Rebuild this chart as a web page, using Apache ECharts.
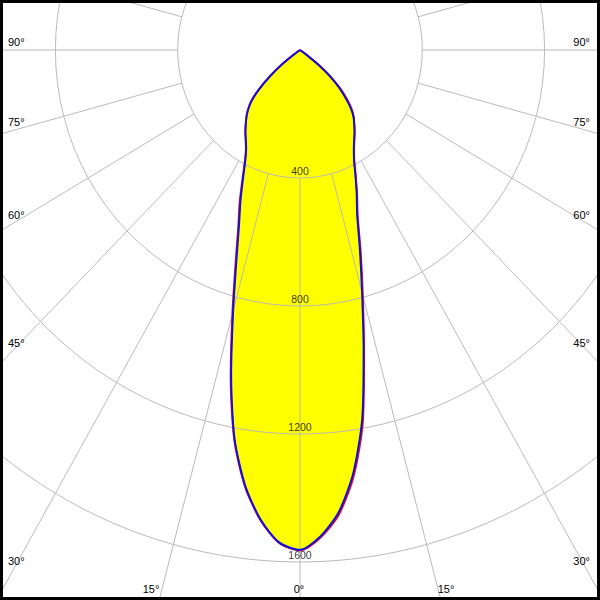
<!DOCTYPE html>
<html>
<head>
<meta charset="utf-8">
<script src="https://cdn.jsdelivr.net/npm/echarts@6/dist/echarts.min.js"></script>
<style>
html,body{margin:0;padding:0;background:#fff;overflow:hidden}
#wrap{position:absolute;left:0;top:0;width:600px;height:600px;overflow:hidden;background:#fff}
#polar{position:absolute;left:0;top:0;width:628px;height:600px;transform-origin:0 0;transform:scaleX(0.95541)}
#over{position:absolute;left:0;top:0;width:600px;height:600px}
</style>
</head>
<body>
<div id="wrap"><div id="polar"></div><div id="over"></div></div>
<script>
// Gamma angles (deg from nadir)
const angles = [0,2.5,5,7.5,10,12.5,15,17.5,20,22.5,25,27.5,30,32.5,35,37.5,40,42.5,45,47.5,50,52.5,55,57.5,60];
// Luminous intensity, blue curve (left half / right half; index 0 = nadir, shared)
const blueLeft  = [1562,1541,1474,1373,1233,1040,845,692,583,508,440,387,352,330,311,291,272,250,223,180,129,75,22,0,0];
const blueRight = [1562,1522,1450,1334,1171,961,784,650,546,484,428,382,352,330,311,291,272,245,209,172,129,77,25,0,0];
// Red curve (left half / right half)
const redLeft   = [1564,1543,1476,1377,1238,1048,855,702,591,516,446,390,354,331,312,292,273,252,226,184,132,78,24,0,0];
const redRight  = [1564,1526,1458,1344,1183,969,794,660,552,488,431,384,354,331,312,292,274,250,217,180,133,80,27,0,0];
// Radius ring labels
const ringValues = [400,800,1200,1600];
// Radial grid directions
const gridAngles = [-180,-165,-150,-135,-120,-105,-90,-75,-60,-45,-30,-15,0,15,30,45,60,75,90,105,120,135,150,165];
// Edge angle labels
const sideLabels = ['90°','75°','60°','45°','30°'];
const bottomLabels = ['15°','0°','15°'];

function path(left, right){
  const d = [];
  for (let i = right.length - 1; i >= 0; i--) d.push([right[i], -angles[i]]);
  for (let i = 1; i < left.length; i++) d.push([left[i], angles[i]]);
  return d;
}

const SMOOTH = 0.25;
const series = [];
series.push({
  type:'line', coordinateSystem:'polar', data: path(blueLeft, blueRight), smooth:SMOOTH,
  showSymbol:false, symbol:'none', lineStyle:{width:0, color:'#ffff00'},
  areaStyle:{color:'#ffff00', opacity:1}, zlevel:0, z:1, silent:true
});
gridAngles.forEach(a => {
  series.push({
    type:'line', coordinateSystem:'polar', data:[[400,a],[2000,a]],
    showSymbol:false, symbol:'none', lineStyle:{width:1, color:'#b8b8b8'},
    zlevel:1, z:1, silent:true
  });
});
series.push({
  type:'line', coordinateSystem:'polar', data: path(redLeft, redRight), smooth:SMOOTH,
  showSymbol:false, symbol:'none', lineStyle:{width:2, color:'#d0103a'},
  zlevel:2, z:1, silent:true
});
series.push({
  type:'line', coordinateSystem:'polar', data: path(blueLeft, blueRight), smooth:SMOOTH,
  showSymbol:false, symbol:'none', lineStyle:{width:2, color:'#1010d8'},
  zlevel:2, z:2, silent:true
});
series.push({
  type:'scatter', coordinateSystem:'polar', data: ringValues.map(v => [v, 0]),
  symbolSize:0, zlevel:3, silent:true,
  label:{show:true, position:'top', distance:2, color:'#000', fontSize:11, lineHeight:11,
    fontFamily:'Liberation Sans', formatter: p => String(p.value[0])}
});

const c1 = echarts.init(document.getElementById('polar'), null, {renderer:'svg'});
c1.setOption({
  animation:false,
  backgroundColor:'transparent',
  polar:{center:[314,50], radius:640},
  angleAxis:{type:'value', min:-180, max:180, startAngle:90, clockwise:true,
    axisLine:{show:false}, axisTick:{show:false}, axisLabel:{show:false}, splitLine:{show:false}},
  radiusAxis:{type:'value', min:0, max:2000, interval:400, zlevel:1,
    axisLine:{show:false}, axisTick:{show:false}, axisLabel:{show:false},
    splitLine:{show:true, lineStyle:{color:'#b8b8b8', width:1}}},
  series: series
});

const font = '11px "Liberation Sans", sans-serif';
const sideY = [42,122,215,343,561];
const bottomX = [151,299,446];
const els = [];
sideLabels.forEach((t,i) => {
  els.push({type:'text', style:{text:t, x:8, y:sideY[i], fill:'#000', font:font, textAlign:'left', textVerticalAlign:'middle'}});
  els.push({type:'text', style:{text:t, x:590, y:sideY[i], fill:'#000', font:font, textAlign:'right', textVerticalAlign:'middle'}});
});
bottomLabels.forEach((t,i) => {
  els.push({type:'text', style:{text:t, x:bottomX[i], y:589, fill:'#000', font:font, textAlign:'center', textVerticalAlign:'middle'}});
});
els.push({type:'rect', shape:{x:1.5, y:1.5, width:597, height:597}, style:{fill:'none', stroke:'#000', lineWidth:3}});

const c2 = echarts.init(document.getElementById('over'), null, {renderer:'svg'});
c2.setOption({animation:false, backgroundColor:'transparent', graphic:{elements:els}});
</script>
</body>
</html>
